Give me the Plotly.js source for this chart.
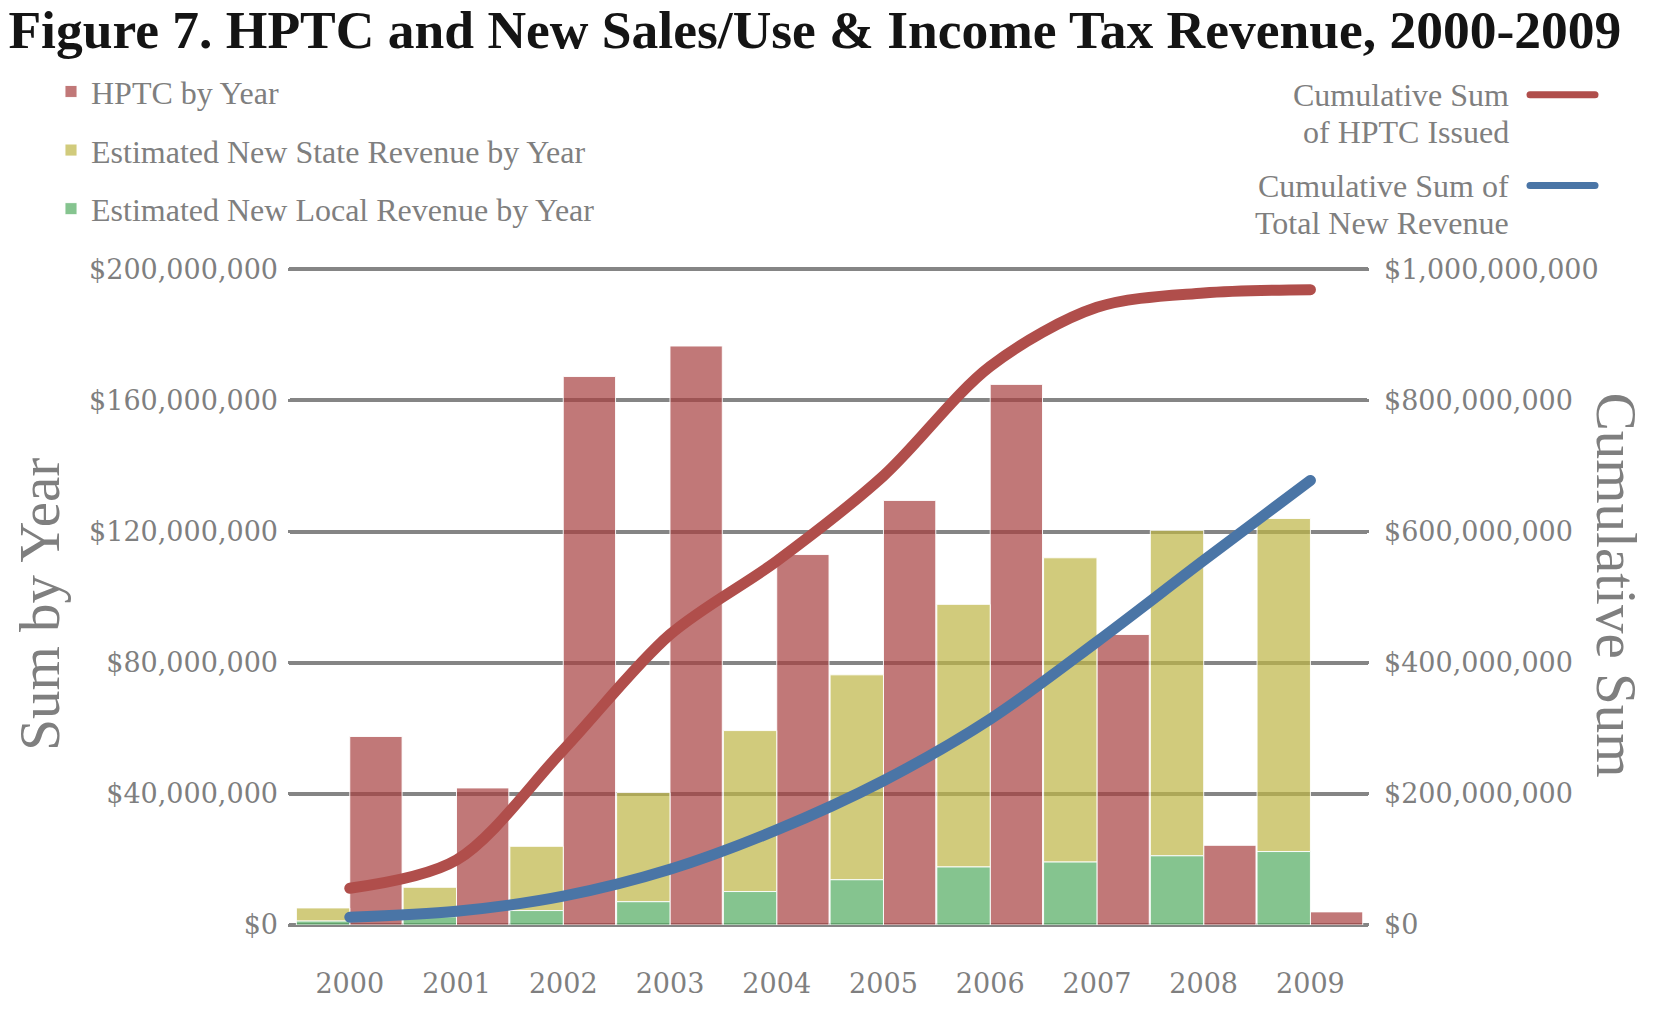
<!DOCTYPE html>
<html>
<head>
<meta charset="utf-8">
<script src="https://cdn.plot.ly/plotly-3.0.1.min.js"></script>
<style>
  body { margin: 0; background: #fff; }
  #chart { width: 1676px; height: 1012px; }
  /* round ends like the original */
  .scatterlayer .js-line,
  .shapelayer path,
  .gridlayer path,
  .zerolinelayer path { stroke-linecap: round; }
</style>
</head>
<body>
<div id="chart"></div>
<script>
// values (dollars)
const years = [2000, 2001, 2002, 2003, 2004, 2005, 2006, 2007, 2008, 2009];

const hptcByYear = [57500000, 41800000, 167300000, 176600000, 113000000,
  129500000, 164900000, 88600000, 24300000, 4000000];

const stateRevenue = [4000000, 9000000, 19600000, 33300000, 49100000,
  62500000, 80100000, 92800000, 99300000, 101600000];

const localRevenue = [1200000, 2500000, 4400000, 7100000, 10200000,
  13800000, 17700000, 19200000, 21100000, 22400000];

const cumulativeHptc = [56000000, 99000000, 267000000, 443000000, 555000000,
  685000000, 852000000, 942000000, 964000000, 969000000];

const cumulativeRevenue = [12000000, 21000000, 44000000, 85000000, 145000000,
  220000000, 314000000, 432000000, 556000000, 678000000];

const leftTicks = [0, 40000000, 80000000, 120000000, 160000000, 200000000];
const rightTicks = [0, 200000000, 400000000, 600000000, 800000000, 1000000000];

const grey = "#7f7f7f";
const serif = "Liberation Serif, Times New Roman, serif";
const tickFont = { family: "DejaVu Serif, serif", size: 27, color: grey };
const legendFont = { family: serif, size: 32, color: grey };

const barLine = { color: "rgba(255,255,255,0.9)", width: 1 };

const data = [
  {
    type: "bar",
    name: "HPTC by Year",
    legendgroup: "a",
    x: years,
    y: hptcByYear,
    offset: 0,
    width: 0.49,
    marker: { color: "rgba(166,62,62,0.7)", line: barLine },
  },
  {
    type: "bar",
    name: "Estimated New State Revenue by Year",
    legendgroup: "b",
    x: years,
    y: stateRevenue,
    base: localRevenue,
    offset: -0.5,
    width: 0.5,
    marker: { color: "rgba(189,181,68,0.7)", line: barLine },
  },
  {
    type: "bar",
    name: "Estimated New Local Revenue by Year",
    legendgroup: "c",
    x: years,
    y: localRevenue,
    offset: -0.5,
    width: 0.5,
    marker: { color: "rgba(81,171,96,0.7)", line: barLine },
  },
  {
    type: "scatter",
    mode: "lines",
    name: "Cumulative Sum of HPTC Issued",
    showlegend: false,
    x: years,
    y: cumulativeHptc,
    yaxis: "y2",
    line: { color: "#b04e4b", width: 11, shape: "spline", smoothing: 0.9 },
  },
  {
    type: "scatter",
    mode: "lines",
    name: "Cumulative Sum of Total New Revenue",
    showlegend: false,
    x: years,
    y: cumulativeRevenue,
    yaxis: "y2",
    line: { color: "#4a75a6", width: 11, shape: "spline", smoothing: 0.9 },
  },
];

// paper coords for things placed outside the plot box
const px = (x) => (x - 290) / 1077;
const py = (y) => (925.5 - y) / 657.5;

function note(text, x, y, opts) {
  return Object.assign({
    text: text,
    xref: "paper", yref: "paper",
    x: px(x), y: py(y),
    xanchor: "center", yanchor: "middle",
    showarrow: false,
    font: legendFont,
  }, opts || {});
}

const layout = {
  width: 1676,
  height: 1012,
  margin: { l: 290, r: 309, t: 268, b: 86.5 },
  paper_bgcolor: "#fff",
  plot_bgcolor: "rgba(0,0,0,0)",
  barmode: "overlay",
  hovermode: false,
  title: {
    text: "Figure 7. HPTC and New Sales/Use & Income Tax Revenue, 2000-2009",
    font: { family: serif, size: 53.5, color: "#141414", weight: "bold" },
    xref: "container",
    x: 0.005,
    xanchor: "left",
    yref: "container",
    y: 1 - 29 / 1012,
    yanchor: "middle",
  },
  xaxis: {
    range: [1999.44, 2009.53],
    tickvals: years,
    ticktext: years.map(String),
    tickfont: tickFont,
    ticklabelstandoff: 40,
    showgrid: false,
    zeroline: false,
    showline: false,
    fixedrange: true,
  },
  yaxis: {
    range: [0, 200400000],
    tickvals: leftTicks,
    tickformat: "$,.0f",
    tickfont: tickFont,
    ticklabelstandoff: 11,
    showgrid: true,
    gridcolor: "#858585",
    gridwidth: 4,
    zeroline: true,
    zerolinecolor: "#858585",
    zerolinewidth: 4,
    showline: false,
    fixedrange: true,
  },
  yaxis2: {
    overlaying: "y",
    side: "right",
    range: [0, 1002000000],
    tickvals: rightTicks,
    tickformat: "$,.0f",
    tickfont: tickFont,
    ticklabelstandoff: 16,
    showgrid: false,
    zeroline: false,
    showline: false,
    fixedrange: true,
  },
  legend: {
    x: px(51),
    xanchor: "left",
    y: py(64),
    yanchor: "top",
    orientation: "v",
    traceorder: "grouped",
    tracegroupgap: 14,
    bgcolor: "rgba(0,0,0,0)",
    font: legendFont,
  },
  annotations: [
    note("Sum by Year", 40, 605, { textangle: -90, font: { family: serif, size: 57, color: grey } }),
    note("Cumulative Sum", 1616, 585, { textangle: 90, font: { family: serif, size: 57, color: grey } }),
    note("Cumulative Sum", 1511, 94.5, { xanchor: "right" }),
    note("of HPTC Issued", 1511, 132, { xanchor: "right" }),
    note("Cumulative Sum of", 1511, 185.5, { xanchor: "right" }),
    note("Total New Revenue", 1511, 223, { xanchor: "right" }),
  ],
  shapes: [
    {
      type: "line", xref: "paper", yref: "paper",
      x0: px(1530), x1: px(1595), y0: py(94.5), y1: py(94.5),
      line: { color: "#b04e4b", width: 7 },
    },
    {
      type: "line", xref: "paper", yref: "paper",
      x0: px(1530), x1: px(1595), y0: py(185.5), y1: py(185.5),
      line: { color: "#4a75a6", width: 7 },
    },
  ],
};

Plotly.newPlot("chart", data, layout, { displayModeBar: false, staticPlot: true });
</script>
</body>
</html>
